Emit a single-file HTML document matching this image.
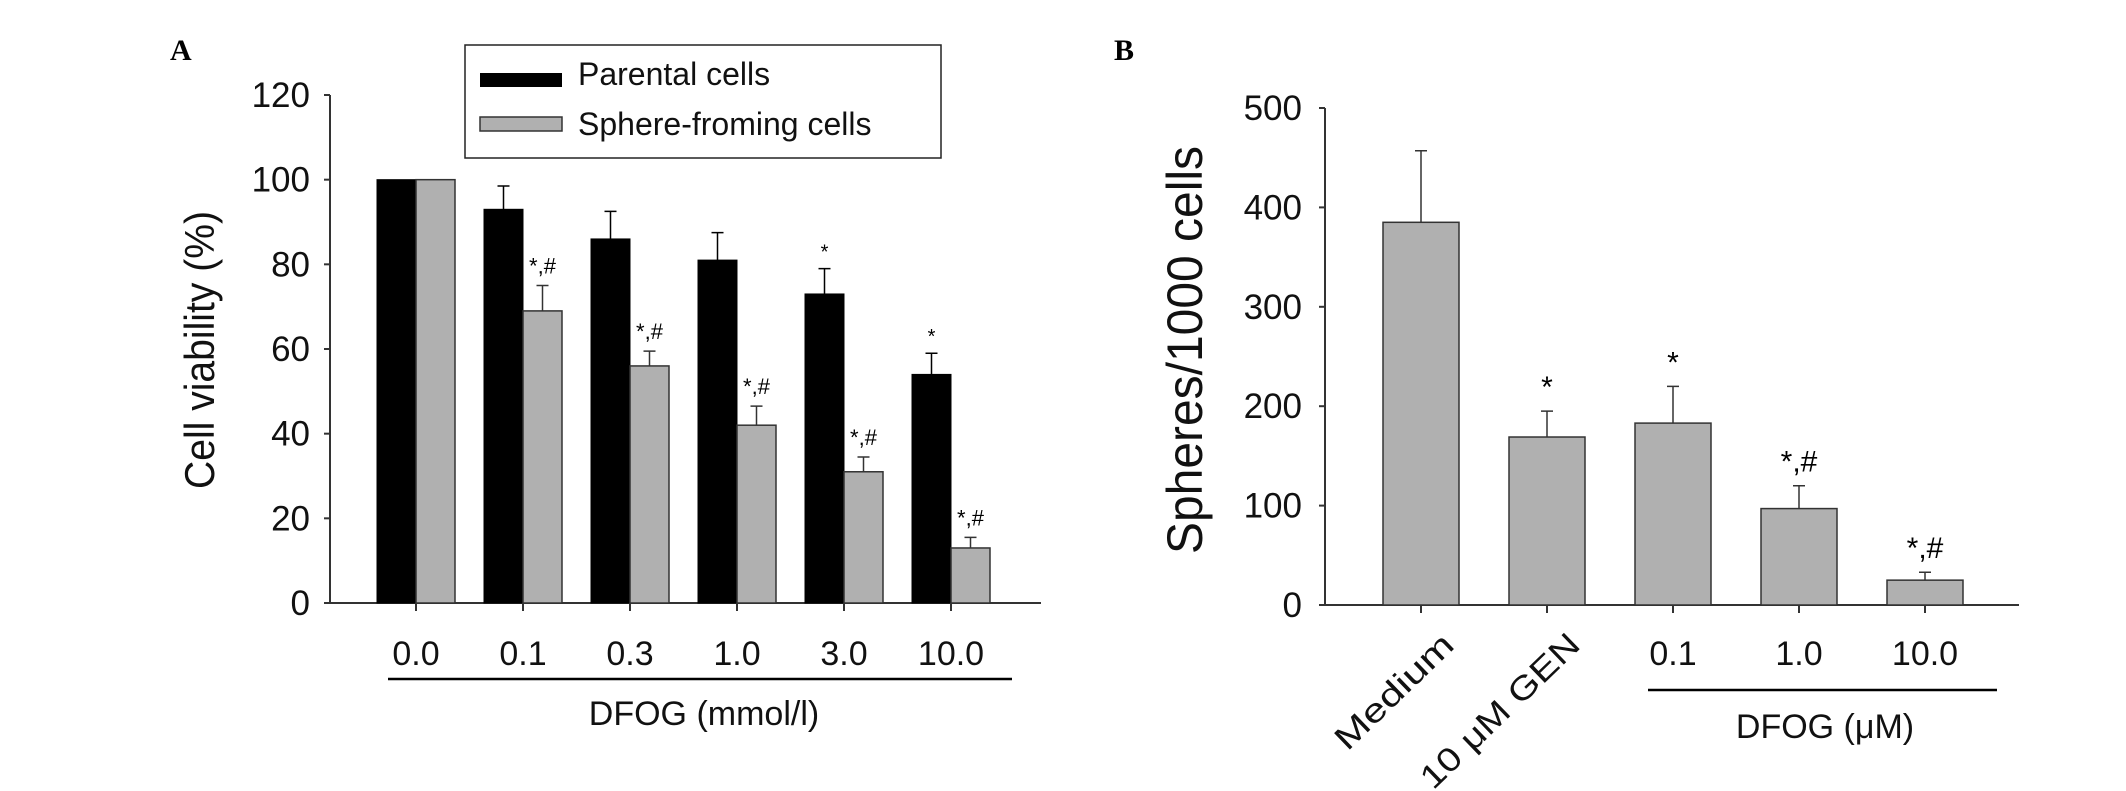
<!DOCTYPE html>
<html><head><meta charset="utf-8"><style>
body{margin:0;background:#fff}
svg{display:block;font-family:"Liberation Sans",sans-serif}
</style></head><body>
<svg id="c" width="2126" height="791" xmlns="http://www.w3.org/2000/svg"></svg>
<script>
const catsA=["0.0","0.1","0.3","1.0","3.0","10.0"];
const parental=[100,93,86,81,73,54];
const parentalErr=[0,98.5,92.5,87.5,79,59];
const sphere=[100,69,56,42,31,13];
const sphereErr=[0,75,59.5,46.5,34.5,15.5];
const parentalSig=["","","","","*","*"];
const sphereSig=["","*,#","*,#","*,#","*,#","*,#"];
const ticksA=[0,20,40,60,80,100,120];
const catsB=["Medium","10 μM GEN","0.1","1.0","10.0"];
const spheresVal=[385,169,183,97,25];
const spheresErr=[457,195,220,120,33];
const sigB=["","*","*","*,#","*,#"];
const ticksB=[0,100,200,300,400,500];

const svg=document.getElementById('c');
const NS="http://www.w3.org/2000/svg";
function mk(t,a,p){const e=document.createElementNS(NS,t);for(const k in a)e.setAttribute(k,a[k]);(p||svg).appendChild(e);return e;}
function txt(s,a,p){const e=mk('text',a,p);e.textContent=s;return e;}

// Panel A
const yA=v=>603-v*(508/120);
const xA=i=>416+i*107;
let g=mk('g',{});


let t=txt("A",{x:170,y:60,'font-family':'Liberation Serif','font-weight':'bold','font-size':30},g);

let ax=mk('line',{x1:330,y1:yA(120),x2:330,y2:603,stroke:'#333','stroke-width':2},g);

ax=mk('line',{x1:328,y1:603,x2:1041,y2:603,stroke:'#333','stroke-width':2},g);

ticksA.forEach(v=>{
  let l=mk('line',{x1:324,y1:yA(v),x2:330,y2:yA(v),stroke:'#333','stroke-width':2},g);
  
  let s=txt(v,{x:310,y:yA(v)+12,'text-anchor':'end','font-size':35,fill:'#111'},g);
  
});
t=txt("Cell viability (%)",{x:0,y:0,'text-anchor':'middle','font-size':42,textLength:278,lengthAdjust:'spacingAndGlyphs',fill:'#111',transform:'translate(214,350) rotate(-90)'},g);

const bw=39;
catsA.forEach((c,i)=>{
  const cx=xA(i);
  let b=mk('rect',{x:cx-bw,y:yA(parental[i]),width:bw,height:603-yA(parental[i]),fill:'#000',stroke:'#000'},g);
  
  b=mk('rect',{x:cx,y:yA(sphere[i]),width:bw,height:603-yA(sphere[i]),fill:'#b0b0b0',stroke:'#333','stroke-width':1.5},g);
  
  if(parentalErr[i]>parental[i]){
    let e=mk('path',{d:`M${cx-bw/2} ${yA(parental[i])}V${yA(parentalErr[i])}M${cx-bw/2-6} ${yA(parentalErr[i])}H${cx-bw/2+6}`,stroke:'#000','stroke-width':1.5,fill:'none'},g);
    
  }
  if(sphereErr[i]>sphere[i]){
    let e=mk('path',{d:`M${cx+bw/2} ${yA(sphere[i])}V${yA(sphereErr[i])}M${cx+bw/2-6} ${yA(sphereErr[i])}H${cx+bw/2+6}`,stroke:'#333','stroke-width':1.5,fill:'none'},g);
    
  }
  if(parentalSig[i]){let s=txt(parentalSig[i],{x:cx-bw/2,y:yA(parentalErr[i])-10,'text-anchor':'middle','font-size':20},g);
    }
  if(sphereSig[i]){let s=txt(sphereSig[i],{x:cx+bw/2,y:yA(sphereErr[i])-12,'text-anchor':'middle','font-size':22},g);
    }
  let tk=mk('line',{x1:cx,y1:603,x2:cx,y2:611,stroke:'#333','stroke-width':2},g);
  
  let s=txt(c,{x:cx,y:665,'text-anchor':'middle','font-size':34,fill:'#111'},g);
  
});
let u=mk('line',{x1:388,y1:679,x2:1012,y2:679,stroke:'#000','stroke-width':2.5},g);

t=txt("DFOG (mmol/l)",{x:704,y:725,'text-anchor':'middle','font-size':34,fill:'#111'},g);

let lg=mk('g',{},g);

mk('rect',{x:465,y:45,width:476,height:113,fill:'#fff',stroke:'#222','stroke-width':1.5},lg);
let sw=mk('rect',{x:480,y:73,width:82,height:14,fill:'#000'},lg);

sw=mk('rect',{x:480,y:117,width:82,height:14,fill:'#b0b0b0',stroke:'#333','stroke-width':1.5},lg);

t=txt("Parental cells",{x:578,y:85,'font-size':32,fill:'#111'},lg);

t=txt("Sphere-froming cells",{x:578,y:135,'font-size':32,fill:'#111'},lg);


// Panel B
const yB=v=>605-v*(497/500);
const xB=i=>1421+i*126;
g=mk('g',{});


t=txt("B",{x:1114,y:60,'font-family':'Liberation Serif','font-weight':'bold','font-size':30},g);

ax=mk('line',{x1:1325,y1:yB(500),x2:1325,y2:605,stroke:'#333','stroke-width':2},g);

ax=mk('line',{x1:1320,y1:605,x2:2019,y2:605,stroke:'#333','stroke-width':2},g);

ticksB.forEach(v=>{
  let l=mk('line',{x1:1319,y1:yB(v),x2:1325,y2:yB(v),stroke:'#333','stroke-width':2},g);
  
  let s=txt(v,{x:1302,y:yB(v)+12,'text-anchor':'end','font-size':35,fill:'#111'},g);
  
});
t=txt("Spheres/1000 cells",{x:0,y:0,'text-anchor':'middle','font-size':50,textLength:408,lengthAdjust:'spacingAndGlyphs',fill:'#111',transform:'translate(1202,350) rotate(-90)'},g);

const bwB=76;
catsB.forEach((c,i)=>{
  const cx=xB(i);
  let b=mk('rect',{x:cx-bwB/2,y:yB(spheresVal[i]),width:bwB,height:605-yB(spheresVal[i]),fill:'#b0b0b0',stroke:'#333','stroke-width':1.5},g);
  
  let e=mk('path',{d:`M${cx} ${yB(spheresVal[i])}V${yB(spheresErr[i])}M${cx-6} ${yB(spheresErr[i])}H${cx+6}`,stroke:'#333','stroke-width':1.5,fill:'none'},g);
  
  if(sigB[i]){let s=txt(sigB[i],{x:cx,y:yB(spheresErr[i])-14,'text-anchor':'middle','font-size':30},g);
    }
  let tk=mk('line',{x1:cx,y1:605,x2:cx,y2:613,stroke:'#333','stroke-width':2},g);
  
  let s;
  if(i<2){
    const len=i===0?151:207;
    s=txt(c,{x:0,y:0,'text-anchor':'end','font-size':33,textLength:len,lengthAdjust:'spacingAndGlyphs',fill:'#111',transform:`translate(${cx+35},647) rotate(-44)`},g);
  } else {
    s=txt(c,{x:cx,y:665,'text-anchor':'middle','font-size':34,fill:'#111'},g);
  }
  
});
u=mk('line',{x1:1648,y1:690,x2:1997,y2:690,stroke:'#000','stroke-width':2.5},g);

t=txt("DFOG (μM)",{x:1825,y:738,'text-anchor':'middle','font-size':34,fill:'#111'},g);

</script>
</body></html>
